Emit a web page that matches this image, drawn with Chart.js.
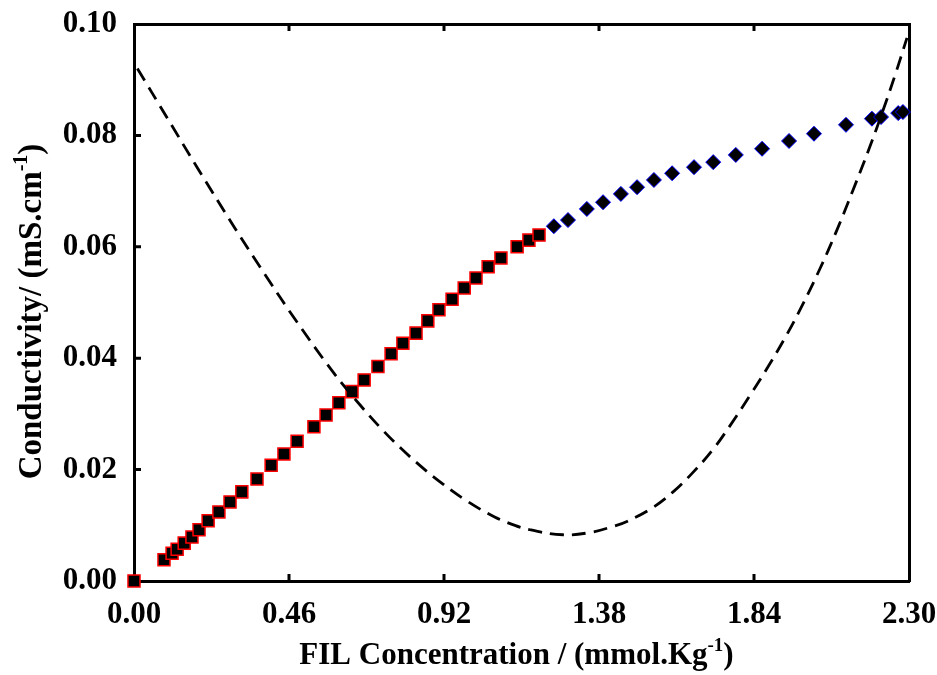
<!DOCTYPE html>
<html>
<head>
<meta charset="utf-8">
<script src="https://cdn.jsdelivr.net/npm/chart.js@4"></script>
<style>
  body { margin: 0; background: #fff; }
</style>
</head>
<body>
<canvas id="condChart" width="937" height="675"></canvas>
<script>
// Measured points, first regime (red squares)
const redX = [0, 0.089, 0.113, 0.128, 0.149, 0.172, 0.193, 0.220, 0.252, 0.285, 0.320, 0.365, 0.407, 0.445, 0.484, 0.534, 0.570, 0.608, 0.647, 0.683, 0.724, 0.763, 0.798, 0.837, 0.872, 0.905, 0.944, 0.980, 1.015, 1.051, 1.089, 1.137, 1.172, 1.202];
const redY = [0, 0.0038, 0.0050, 0.0057, 0.0068, 0.0079, 0.0092, 0.0108, 0.0124, 0.0142, 0.0160, 0.0183, 0.0208, 0.0228, 0.0251, 0.0277, 0.0298, 0.0320, 0.0340, 0.0361, 0.0385, 0.0408, 0.0427, 0.0445, 0.0467, 0.0487, 0.0506, 0.0526, 0.0544, 0.0564, 0.0580, 0.0600, 0.0612, 0.0621];

// Second regime (blue diamonds)
const blueX = [1.246, 1.288, 1.344, 1.392, 1.445, 1.493, 1.543, 1.597, 1.662, 1.719, 1.786, 1.864, 1.944, 2.018, 2.113, 2.190, 2.217, 2.268, 2.282];
const blueY = [0.0637, 0.0648, 0.0668, 0.0680, 0.0695, 0.0707, 0.0720, 0.0732, 0.0743, 0.0752, 0.0765, 0.0776, 0.0790, 0.0803, 0.0819, 0.0830, 0.0833, 0.0840, 0.0842];

// Dashed curve
const curveX = [0.01, 0.10, 0.187, 0.30, 0.40, 0.478, 0.591, 0.671, 0.730, 0.789, 0.855, 0.917, 0.982, 1.048, 1.107, 1.175, 1.273, 1.353, 1.422, 1.463, 1.540, 1.600, 1.659, 1.718, 1.769, 1.828, 1.887, 1.938, 1.985, 2.036, 2.086, 2.134, 2.184, 2.223, 2.258, 2.294];
const curveY = [0.0920, 0.0830, 0.0743, 0.0633, 0.0540, 0.0470, 0.0375, 0.0316, 0.0276, 0.0240, 0.0204, 0.0174, 0.0146, 0.0122, 0.0105, 0.0092, 0.0083, 0.0087, 0.0098, 0.0107, 0.0132, 0.0160, 0.0195, 0.0236, 0.0279, 0.0333, 0.0390, 0.0443, 0.0497, 0.0561, 0.0630, 0.0702, 0.0780, 0.0845, 0.0907, 0.0975];

const xTicks = [0, 0.46, 0.92, 1.38, 1.84, 2.30];
const yTicks = [0, 0.02, 0.04, 0.06, 0.08, 0.10];

const serif = "'Liberation Serif', 'Times New Roman', serif";

function toPoints(xs, ys) {
  return xs.map((x, i) => ({ x: x, y: ys[i] }));
}

// inward tick marks + axis titles with superscript
const decorations = {
  id: 'decorations',
  afterDraw(chart) {
    const ctx = chart.ctx;
    const area = chart.chartArea;
    const xs = chart.scales.x;
    const ys = chart.scales.y;
    const len = 7;

    ctx.save();
    ctx.strokeStyle = '#000';
    ctx.lineWidth = 3;
    ctx.beginPath();
    xTicks.slice(1, -1).forEach(v => {
      const px = xs.getPixelForValue(v);
      ctx.moveTo(px, area.bottom);
      ctx.lineTo(px, area.bottom - len);
      ctx.moveTo(px, area.top);
      ctx.lineTo(px, area.top + len);
    });
    yTicks.slice(1, -1).forEach(v => {
      const py = ys.getPixelForValue(v);
      ctx.moveTo(area.left, py);
      ctx.lineTo(area.left + len, py);
    });
    ctx.stroke();

    ctx.fillStyle = '#000';
    const cx = (area.left + area.right) / 2 - 5;
    drawTitle(ctx, 'FIL Concentration / (mmol.Kg', '-1', ')', cx, 664, 31);

    ctx.translate(41, (area.top + area.bottom) / 2 + 9);
    ctx.rotate(-Math.PI / 2);
    drawTitle(ctx, 'Conductivity/ (mS.cm', '-1', ')', 0, 0, 33);
    ctx.restore();
  }
};

function drawTitle(ctx, before, sup, after, cx, baseY, size) {
  const big = 'bold ' + size + 'px ' + serif;
  const small = 'bold ' + Math.round(size * 0.62) + 'px ' + serif;
  ctx.font = big;
  const w1 = ctx.measureText(before).width;
  const w3 = ctx.measureText(after).width;
  ctx.font = small;
  const w2 = ctx.measureText(sup).width;
  let x = cx - (w1 + w2 + w3) / 2;
  ctx.textAlign = 'left';
  ctx.textBaseline = 'alphabetic';
  ctx.font = big;
  ctx.fillText(before, x, baseY);
  x += w1;
  ctx.font = small;
  ctx.fillText(sup, x, baseY - size * 0.42);
  x += w2;
  ctx.font = big;
  ctx.fillText(after, x, baseY);
}

const tickFont = { family: serif, size: 31, weight: 'bold' };
const frame = { display: true, color: '#000', width: 3 };
const noGrid = { display: false, drawTicks: false };

const ctx = document.getElementById('condChart').getContext('2d');
const chart = new Chart(ctx, {
  type: 'scatter',
  data: {
    datasets: [
      {
        label: 'fit',
        data: toPoints(curveX, curveY),
        showLine: true,
        borderColor: '#000',
        borderWidth: 2.8,
        borderDash: [14, 8],
        tension: 0.4,
        pointRadius: 0,
        fill: false,
        order: 0
      },
      {
        label: 'low',
        data: toPoints(redX, redY),
        pointStyle: 'rect',
        pointRadius: 8.5,
        backgroundColor: '#000',
        borderColor: '#ff0000',
        borderWidth: 1.5,
        clip: false,
        order: 1
      },
      {
        label: 'high',
        data: toPoints(blueX, blueY),
        pointStyle: 'rectRot',
        pointRadius: 7.5,
        backgroundColor: '#000',
        borderColor: '#0000ff',
        borderWidth: 1,
        clip: false,
        order: 2
      }
    ]
  },
  options: {
    responsive: false,
    animation: false,
    layout: { padding: { left: 0, top: 24, right: 28, bottom: 0 } },
    plugins: {
      legend: { display: false },
      tooltip: { enabled: false }
    },
    scales: {
      x: {
        type: 'linear',
        position: 'bottom',
        min: 0,
        max: 2.3,
        afterBuildTicks: s => { s.ticks = xTicks.map(v => ({ value: v })); },
        afterFit: s => { s.height = 94; s.paddingLeft = 0; s.paddingRight = 0; },
        grid: noGrid,
        border: frame,
        ticks: {
          color: '#000',
          font: tickFont,
          padding: 15,
          maxRotation: 0,
          callback: v => v.toFixed(2)
        }
      },
      x2: {
        type: 'linear',
        position: 'top',
        min: 0,
        max: 2.3,
        afterFit: s => { s.height = 0; },
        grid: noGrid,
        border: frame,
        ticks: { display: false }
      },
      y: {
        type: 'linear',
        position: 'left',
        min: 0,
        max: 0.1,
        afterBuildTicks: s => { s.ticks = yTicks.map(v => ({ value: v })); },
        afterFit: s => { s.width = 134; s.paddingTop = 0; s.paddingBottom = 0; },
        grid: noGrid,
        border: frame,
        ticks: {
          color: '#000',
          font: tickFont,
          padding: 17,
          callback: v => v.toFixed(2)
        }
      },
      y2: {
        type: 'linear',
        position: 'right',
        min: 0,
        max: 0.1,
        afterFit: s => { s.width = 0; },
        grid: noGrid,
        border: frame,
        ticks: { display: false }
      }
    }
  },
  plugins: [decorations]
});
</script>
</body>
</html>
